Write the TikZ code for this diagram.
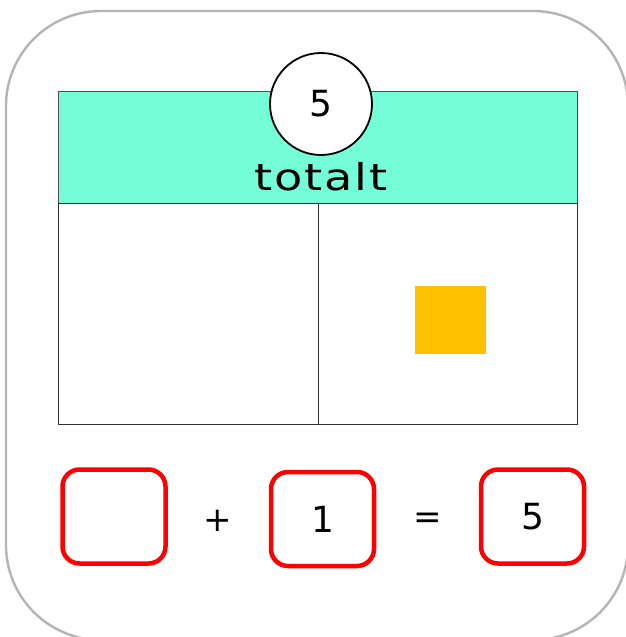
\documentclass[tikz,border=0pt]{standalone}
\usepackage{fontspec}
\usepackage{graphicx}
\setmainfont{DejaVu Sans}
\definecolor{teal1}{HTML}{75FDD7}
\definecolor{gold1}{HTML}{FFC000}
\definecolor{grayb}{HTML}{B4B4B4}
\begin{document}
\begin{tikzpicture}[x=1pt,y=-1pt,
  redbox/.style={draw=red,line width=4.5pt,rounded corners=17pt,minimum width=103pt,minimum height=94pt,inner sep=0pt,font=\fontsize{36}{40}\selectfont},
  sym/.style={font=\fontsize{34}{40}\selectfont,inner sep=0pt}]
\useasboundingbox (0,0) rectangle (626,637);
\begin{scope}
\clip (0,0) rectangle (626,637);
\draw[grayb,line width=2.4pt,rounded corners=95pt] (6,11) rectangle (628,640);
\end{scope}
\node[draw=black!70,fill=teal1,line width=0.8pt,minimum width=519pt,minimum height=112pt,inner sep=0pt,anchor=north west] (top) at (58,91) {};
\node[draw=black!80,line width=0.8pt,minimum width=259.5pt,minimum height=221pt,inner sep=0pt,anchor=north west] (left) at (58,203) {};
\node[draw=black!80,line width=0.8pt,minimum width=259.5pt,minimum height=221pt,inner sep=0pt,anchor=north west] (right) at (317.5,203) {};
\node[draw=black,fill=white,circle,line width=1.8pt,minimum size=102pt,inner sep=0pt,font=\fontsize{36}{40}\selectfont] (tot) at (321,104) {5};
\node[font=\fontsize{37}{40}\selectfont,inner sep=0pt,anchor=base] (lbl) at (321,190) {\scalebox{1.25}[1]{\addfontfeature{LetterSpace=4}totalt}};
\node[fill=gold1,minimum width=71pt,minimum height=68pt,inner sep=0pt] (sq) at (450.5,320) {};
\node[redbox] (b1) at (114,516.5) {};
\node[redbox] (b2) at (322.5,519) {1};
\node[redbox] (b3) at (532.5,516.5) {5};
\node[sym] (plus) at (218,521) {+};
\node[sym] (eq) at (428,521) {=};
\end{tikzpicture}
\end{document}
